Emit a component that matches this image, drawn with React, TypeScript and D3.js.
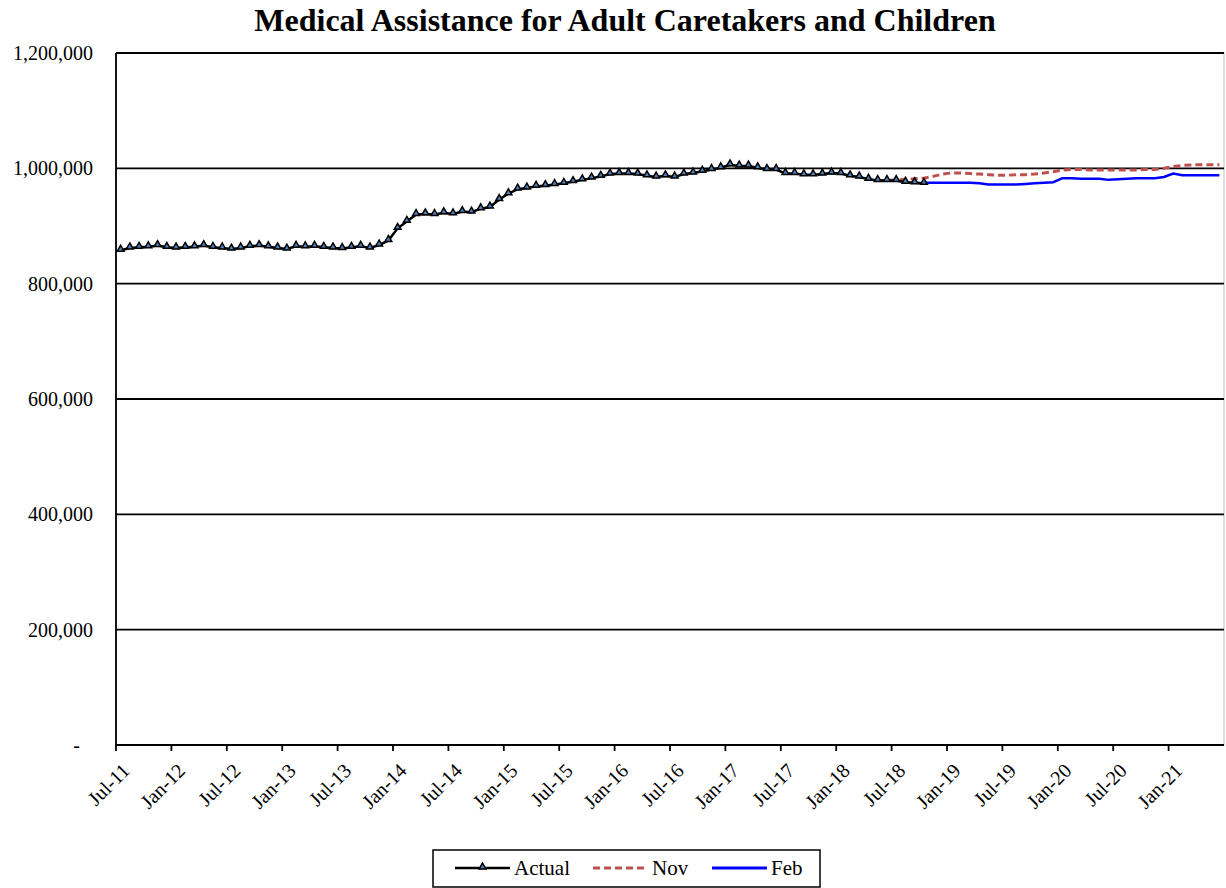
import * as d3 from "d3";
import { useEffect, useRef } from "react";

// monthly series, Jul-11 .. Jun-21
const startMonth = new Date(2011, 6, 1);
const monthCount = 120;

const actual = [
  858000, 862000, 863000, 864000, 866000, 863000, 862000, 863000, 864000, 866000,
  863000, 862000, 860000, 862000, 865000, 866000, 864000, 862000, 860000, 865000,
  864000, 865000, 863000, 862000, 861000, 863000, 865000, 862000, 867000, 875000,
  896000, 908000, 920000, 921000, 920000, 923000, 921000, 925000, 924000, 930000,
  933000, 946000, 956000, 964000, 966000, 969000, 970000, 972000, 974000, 977000,
  980000, 983000, 986000, 990000, 991000, 991000, 990000, 987000, 985000, 987000,
  985000, 990000, 992000, 995000, 998000, 1001000, 1006000, 1004000, 1004000, 1001000,
  998000, 998000, 991000, 991000, 989000, 989000, 990000, 992000, 991000, 987000,
  985000, 981000, 979000, 979000, 979000, 976000, 975000, 974000,
];

// Nov forecast starts at May-18 (index 82)
const novStart = 82;
const nov = [
  979000, 979000, 980000, 981000, 982000, 983000, 986000, 990000, 992000, 992000,
  991000, 990000, 989000, 988000, 988000, 989000, 989000, 990000, 992000, 994000,
  997000, 998000, 998000, 997000, 997000, 997000, 997000, 997000, 997000, 998000,
  998000, 1000000, 1003000, 1005000, 1006000, 1006000, 1006000, 1006000,
];

// Feb forecast starts at Oct-18 (index 87)
const febStart = 87;
const feb = [
  975000, 975000, 975000, 975000, 975000, 975000, 974000, 972000, 972000, 972000,
  972000, 973000, 974000, 975000, 976000, 983000, 983000, 982000, 982000, 982000,
  980000, 981000, 982000, 983000, 983000, 983000, 985000, 991000, 988000, 988000,
  988000, 988000, 988000,
];

const yTicks = [0, 200000, 400000, 600000, 800000, 1000000, 1200000];

const legendItems = [
  { name: "Actual", color: "#000000", dash: null, marker: true },
  { name: "Nov", color: "#c0504d", dash: "7,4", marker: false },
  { name: "Feb", color: "#0000ff", dash: null, marker: false },
];

const FONT = "'Liberation Serif', 'Times New Roman', serif";

const App = () => {
  const ref = useRef<SVGSVGElement>(null);
  const width = 1226;
  const height = 888;
  const margin = { top: 53, right: 2, bottom: 143, left: 116 };

  useEffect(() => {
    document.body.style.margin = "0";
    const svg = d3.select(ref.current);
    svg.selectAll("*").remove();

    const months = d3.timeMonth.range(startMonth, d3.timeMonth.offset(startMonth, monthCount));
    const fmt = d3.timeFormat("%b-%y");

    const x = d3
      .scaleBand<number>()
      .domain(d3.range(monthCount))
      .range([margin.left, width - margin.right])
      .padding(0);
    const cx = (i: number) => (x(i) as number) + x.bandwidth() / 2;

    const y = d3
      .scaleLinear()
      .domain([0, 1200000])
      .range([height - margin.bottom, margin.top]);

    // title
    svg
      .append("text")
      .attr("x", width / 2 + 12)
      .attr("y", 31)
      .attr("text-anchor", "middle")
      .attr("font-family", FONT)
      .attr("font-weight", "bold")
      .attr("font-size", 32)
      .text("Medical Assistance for Adult Caretakers and Children");

    // plot border
    svg
      .append("rect")
      .attr("x", margin.left)
      .attr("y", margin.top)
      .attr("width", width - margin.right - margin.left)
      .attr("height", height - margin.bottom - margin.top)
      .attr("fill", "none")
      .attr("stroke", "#bfbfbf")
      .attr("stroke-width", 1);

    // gridlines
    svg
      .append("g")
      .selectAll("line")
      .data(yTicks.filter((d) => d > 0))
      .join("line")
      .attr("x1", margin.left)
      .attr("x2", width - margin.right)
      .attr("y1", (d) => y(d))
      .attr("y2", (d) => y(d))
      .attr("stroke", "#000")
      .attr("stroke-width", 1.8);

    // y labels
    svg
      .append("g")
      .selectAll("text")
      .data(yTicks)
      .join("text")
      .attr("x", (d) => (d === 0 ? 80 : 93))
      .attr("y", (d) => y(d))
      .attr("dy", "0.35em")
      .attr("text-anchor", "end")
      .attr("font-family", FONT)
      .attr("font-size", 20)
      .text((d) => (d === 0 ? "-" : d3.format(",")(d)));

    // axes lines
    svg
      .append("line")
      .attr("x1", margin.left)
      .attr("x2", margin.left)
      .attr("y1", margin.top)
      .attr("y2", y(0))
      .attr("stroke", "#000")
      .attr("stroke-width", 1.8);
    svg
      .append("line")
      .attr("x1", margin.left)
      .attr("x2", width - margin.right)
      .attr("y1", y(0))
      .attr("y2", y(0))
      .attr("stroke", "#000")
      .attr("stroke-width", 1.8);

    // x ticks every 6 months
    const tickIdx = d3.range(0, monthCount, 6);
    const xt = svg.append("g");
    xt.selectAll("line")
      .data(tickIdx)
      .join("line")
      .attr("x1", (i) => x(i) as number)
      .attr("x2", (i) => x(i) as number)
      .attr("y1", y(0))
      .attr("y2", y(0) + 6)
      .attr("stroke", "#000")
      .attr("stroke-width", 1.8);
    xt.selectAll("text")
      .data(tickIdx)
      .join("text")
      .attr("transform", (i) => `translate(${(x(i) as number) + 10}, ${y(0) + 22}) rotate(-45)`)
      .attr("text-anchor", "end")
      .attr("dy", "0.35em")
      .attr("font-family", FONT)
      .attr("font-size", 20)
      .text((i) => fmt(months[i]));

    const line = d3
      .line<[number, number]>()
      .x((d) => d[0])
      .y((d) => d[1]);

    // Nov forecast
    svg
      .append("path")
      .datum(nov.map((v, i) => [cx(novStart + i), y(v)] as [number, number]))
      .attr("d", line)
      .attr("fill", "none")
      .attr("stroke", "#c0504d")
      .attr("stroke-width", 3)
      .attr("stroke-dasharray", "7,4");

    // Feb forecast
    svg
      .append("path")
      .datum(feb.map((v, i) => [cx(febStart + i), y(v)] as [number, number]))
      .attr("d", line)
      .attr("fill", "none")
      .attr("stroke", "#0000ff")
      .attr("stroke-width", 2.5);

    // Actual
    const actPts = actual.map((v, i) => [cx(i), y(v)] as [number, number]);
    svg
      .append("path")
      .datum(actPts)
      .attr("d", line)
      .attr("fill", "none")
      .attr("stroke", "#000")
      .attr("stroke-width", 2.5);
    const tri = d3.symbol().type(d3.symbolTriangle).size(20);
    svg
      .append("g")
      .selectAll("path")
      .data(actPts)
      .join("path")
      .attr("d", tri)
      .attr("transform", (d) => `translate(${d[0]}, ${d[1] - 1})`)
      .attr("fill", "#4f81bd")
      .attr("stroke", "#000")
      .attr("stroke-width", 1.5);

    // legend
    const lg = svg.append("g");
    lg.append("rect")
      .attr("x", 433)
      .attr("y", 850)
      .attr("width", 387)
      .attr("height", 37)
      .attr("fill", "#fff")
      .attr("stroke", "#000")
      .attr("stroke-width", 1.5);
    const offsets = [455, 593, 712];
    legendItems.forEach((it, k) => {
      const lx = offsets[k];
      const ly = 868;
      lg.append("line")
        .attr("x1", lx)
        .attr("x2", lx + 55)
        .attr("y1", ly)
        .attr("y2", ly)
        .attr("stroke", it.color)
        .attr("stroke-width", it.marker ? 2.5 : 3)
        .attr("stroke-dasharray", it.dash);
      if (it.marker) {
        lg.append("path")
          .attr("d", tri)
          .attr("transform", `translate(${lx + 27.5}, ${ly - 1})`)
          .attr("fill", "#4f81bd")
          .attr("stroke", "#000")
          .attr("stroke-width", 1.5);
      }
      lg.append("text")
        .attr("x", lx + 59)
        .attr("y", ly)
        .attr("dy", "0.35em")
        .attr("font-family", FONT)
        .attr("font-size", 21)
        .text(it.name);
    });
  }, []);

  return <svg ref={ref} width={width} height={height} style={{ display: "block" }} />;
};

export default App;
